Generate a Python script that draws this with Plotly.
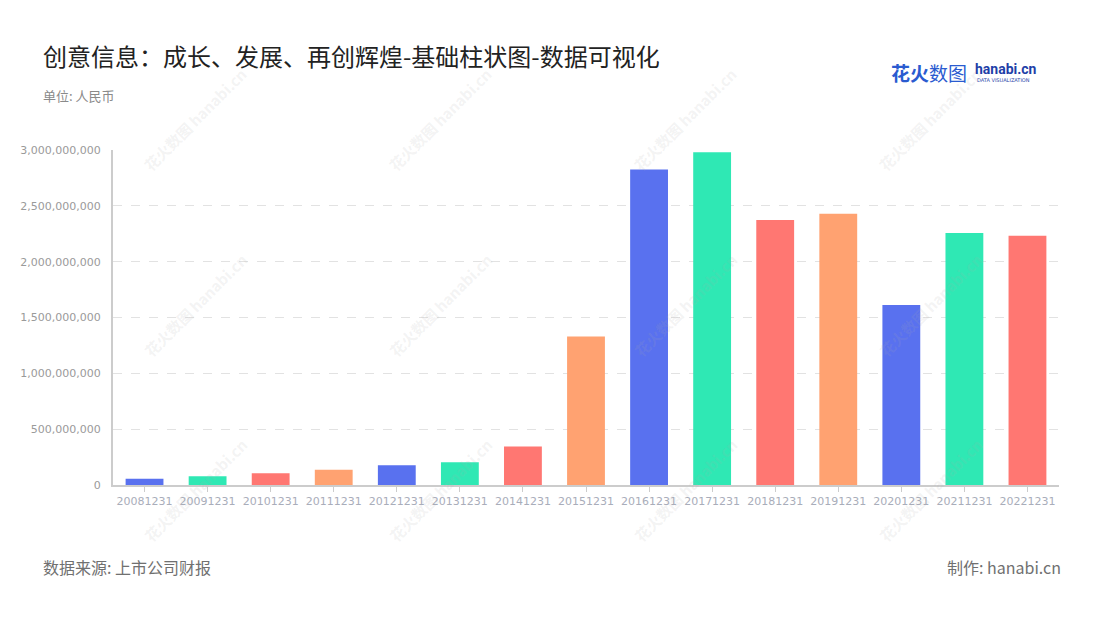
import plotly.graph_objects as go

# ---- data ----
categories = ["20081231", "20091231", "20101231", "20111231", "20121231",
              "20131231", "20141231", "20151231", "20161231", "20171231",
              "20181231", "20191231", "20201231", "20211231", "20221231"]
values = [57000000, 78000000, 105000000, 136000000, 177000000,
          204000000, 345000000, 1330000000, 2826000000, 2979000000,
          2373000000, 2428000000, 1612000000, 2257000000, 2233000000]
palette = ["#5971EF", "#2FE8B4", "#FF7772", "#FFA271"]
y_ticks = [0, 500000000, 1000000000, 1500000000, 2000000000, 2500000000, 3000000000]

title_text = "创意信息：成长、发展、再创辉煌-基础柱状图-数据可视化"
unit_text = "单位: 人民币"
source_text = "数据来源: 上市公司财报"
maker_text = "制作: hanabi.cn"

CJK = "Noto Sans CJK SC"
W, H = 1100, 620
L, R, T, B = 113, 41, 150, 135
PW, PH = W - L - R, H - T - B


def px(x):
    return (x - L) / PW


def py(y):
    return (H - B - y) / PH


bar_colors = [palette[i % len(palette)] for i in range(len(categories))]

fig = go.Figure()
fig.add_trace(go.Bar(
    x=categories, y=values,
    marker=dict(color=bar_colors, line=dict(width=0)),
    width=0.6,
    hovertemplate="%{x}<br>%{y:,}<extra></extra>",
))

annotations = []
# watermarks
wm_x = [195, 440, 685, 930]
wm_y = [120, 305, 490]
for wx in wm_x:
    for wy in wm_y:
        annotations.append(dict(
            text="<b>花火数图</b> <b>hanabi.cn</b>", x=px(wx), y=py(wy),
            xref="paper", yref="paper", showarrow=False, textangle=-45,
            font=dict(family=CJK, size=15, color="rgba(170,170,170,0.15)"),
            xanchor="center", yanchor="middle"))

texts = [
    dict(text=title_text, x=41, y=55, size=24, color="#222222", anchor="left"),
    dict(text=unit_text, x=41, y=96, size=13, color="#8a8a8a", anchor="left"),
    dict(text=source_text, x=41, y=567, size=16, color="#707070", anchor="left"),
    dict(text=maker_text, x=1063, y=567, size=16, color="#707070", anchor="right"),
]
for t in texts:
    annotations.append(dict(
        text=t["text"], x=px(t["x"]), y=py(t["y"]),
        xref="paper", yref="paper", showarrow=False,
        xanchor=t["anchor"], yanchor="middle",
        font=dict(family=CJK, size=t["size"], color=t["color"])))

# logo
annotations.append(dict(
    text="<b>花火</b>数图", x=px(889), y=py(72),
    xref="paper", yref="paper", showarrow=False, xanchor="left", yanchor="middle",
    font=dict(family=CJK, size=19, color="#2a5bd0")))
annotations.append(dict(
    text="<b>hanabi.cn</b>", x=px(973), y=py(69),
    xref="paper", yref="paper", showarrow=False, xanchor="left", yanchor="middle",
    font=dict(family="Roboto", size=14, color="#1f3fa8")))
annotations.append(dict(
    text="DATA VISUALIZATION", x=px(975), y=py(80),
    xref="paper", yref="paper", showarrow=False, xanchor="left", yanchor="middle",
    font=dict(family="DejaVu Sans", size=5, color="#1f3fa8")))

fig.update_layout(
    width=W, height=H,
    margin=dict(l=L, r=R, t=T, b=B, autoexpand=False),
    paper_bgcolor="white", plot_bgcolor="white",
    showlegend=False,
    xaxis=dict(
        type="category",
        showline=True, linecolor="#cccccc", linewidth=2,
        ticks="outside", ticklen=5, tickcolor="#cccccc", tickwidth=1,
        tickfont=dict(family="DejaVu Sans", size=11, color="#a9adba"),
        showgrid=False, zeroline=False,
    ),
    yaxis=dict(
        range=[0, 3000000000],
        tickvals=y_ticks,
        tickformat=",d",
        showline=True, linecolor="#cccccc", linewidth=2,
        ticks="", ticklabelstandoff=8,
        tickfont=dict(family="DejaVu Sans", size=11, color="#9a9a9a"),
        showgrid=True, gridcolor="#e2e2e2", griddash="dash", gridwidth=1,
        zeroline=False,
    ),
    annotations=annotations,
)

fig.write_html("out.html",
               config={"displayModeBar": False},
               post_script="document.body.style.margin='0';document.body.style.overflow='hidden';")
